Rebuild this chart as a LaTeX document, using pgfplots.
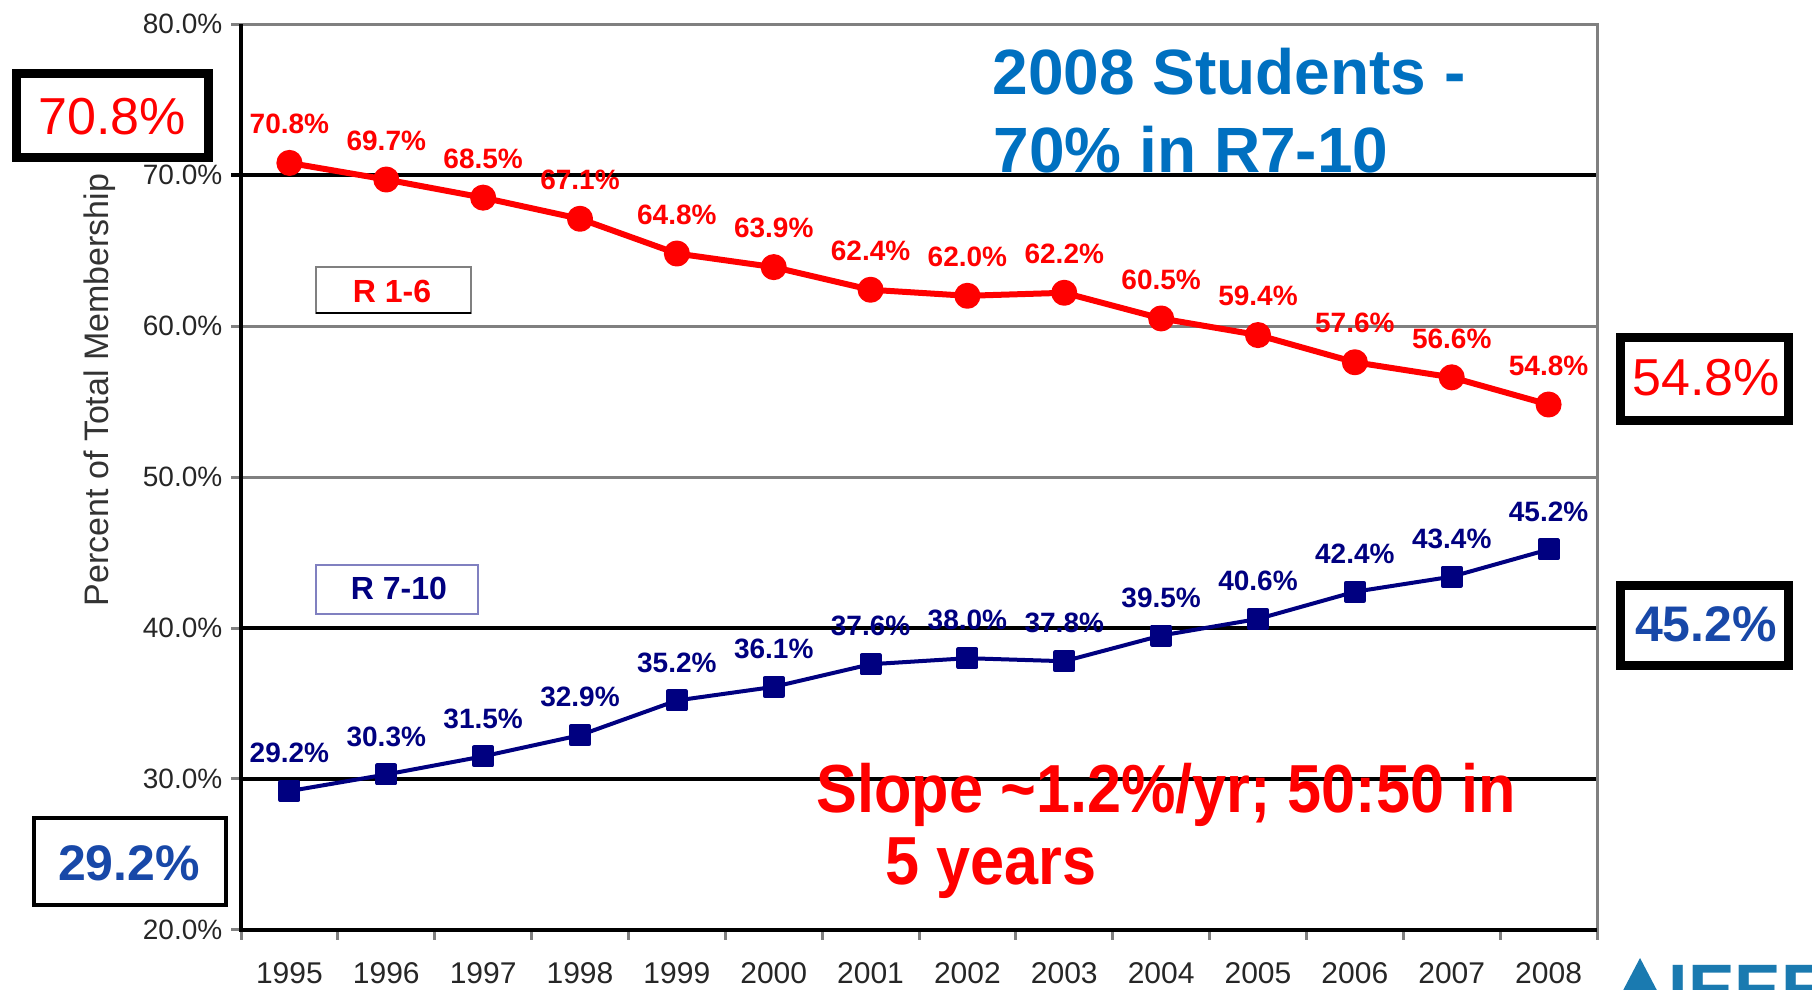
\documentclass[border=0pt]{standalone}
\usepackage{pgfplots}
\pgfplotsset{compat=1.18}
\usepackage{fontspec}
\setmainfont{Liberation Sans}
\newfontfamily\slopefont[FakeStretch=0.9]{Liberation Sans}
\definecolor{xred}{HTML}{FF0000}
\definecolor{xnavy}{HTML}{000080}
\definecolor{titleblue}{HTML}{0070C0}
\definecolor{boxblue}{HTML}{1848A8}
\definecolor{boxnavy}{HTML}{8080C0}
\definecolor{ieeeblue}{HTML}{1A7AB0}
\newcommand{\fs}[2]{\fontsize{#1}{#2}\selectfont}
\begin{document}
\begin{tikzpicture}
\useasboundingbox (0,0) rectangle (181.2mm,99mm);
\begin{axis}[
  at={(24.1mm,6mm)}, anchor=south west,
  scale only axis, width=135.6mm, height=90.6mm,
  xmin=-0.5, xmax=13.5, ymin=20, ymax=80,
  axis line style={draw=none},
  clip=false,
  tick align=outside,
  xtick pos=lower, ytick pos=lower,
  major tick length=1mm,
  tick style={draw=gray, line width=0.3mm},
  xtick={-0.5,0.5,...,13.5}, xticklabels={},
  extra x ticks={0,1,2,3,4,5,6,7,8,9,10,11,12,13},
  extra x tick labels={1995,1996,1997,1998,1999,2000,2001,2002,2003,2004,2005,2006,2007,2008},
  extra x tick style={major tick length=0pt,
    xticklabel style={font=\fs{3.0mm}{3.6mm}, text=black!85, inner sep=0pt, anchor=north, yshift=-3.2mm}},
  ytick={20,30,40,50,60,70,80},
  yticklabel={\pgfmathprintnumber[fixed,fixed zerofill,precision=1]{\tick}\%},
  yticklabel style={font=\fs{2.8mm}{3.3mm}, text=black!85, inner sep=0pt, anchor=east, xshift=-0.8mm},
  /pgf/number format/assume math mode=true,
  ymajorgrids, grid style={draw=gray, line width=0.3mm},
]
% emphasised black gridlines
\draw[black, line width=0.33mm] (axis cs:-0.6,70) -- (axis cs:13.5,70);
\draw[black, line width=0.33mm] (axis cs:-0.5,40) -- (axis cs:13.5,40);
\draw[black, line width=0.33mm] (axis cs:-0.5,30) -- (axis cs:13.5,30);

\addplot[color=xred, line width=0.6mm, line join=round, mark=*, mark size=1mm, mark options={solid},
  nodes near coords={\pgfmathprintnumber[fixed,fixed zerofill,precision=1]{\pgfplotspointmeta}\%},
  every node near coord/.append style={font=\bfseries\fs{2.8mm}{3.3mm}, text=xred, inner sep=0pt, anchor=south, yshift=2.6mm}]
coordinates {(0,70.8) (1,69.7) (2,68.5) (3,67.1) (4,64.8) (5,63.9) (6,62.4) (7,62.0) (8,62.2) (9,60.5) (10,59.4) (11,57.6) (12,56.6) (13,54.8)};

\addplot[color=xnavy, line width=0.4mm, line join=round, mark=square*, mark size=0.9mm, mark options={solid},
  nodes near coords={\pgfmathprintnumber[fixed,fixed zerofill,precision=1]{\pgfplotspointmeta}\%},
  every node near coord/.append style={font=\bfseries\fs{2.8mm}{3.3mm}, text=xnavy, inner sep=0pt, anchor=south, yshift=2.6mm}]
coordinates {(0,29.2) (1,30.3) (2,31.5) (3,32.9) (4,35.2) (5,36.1) (6,37.6) (7,38.0) (8,37.8) (9,39.5) (10,40.6) (11,42.4) (12,43.4) (13,45.2)};

% frame
\draw[gray, line width=0.3mm] (axis cs:-0.5,80) -- (axis cs:13.5,80) -- (axis cs:13.5,20);
\draw[black, line width=0.33mm] (axis cs:-0.5,80) -- (axis cs:-0.5,20) -- (axis cs:13.5,20);
\end{axis}

\begin{scope}[x=0.1mm, y=-0.1mm, shift={(0mm,99mm)}]
% y label
\node[rotate=90, font=\fs{3.4mm}{4mm}, text=black!80] at (100,390) {Percent of Total Membership};
% boxed callouts
\draw[black, line width=0.9mm, fill=white] (16.5,73.5) rectangle (208.5,157.5);
\node[text=xred, font=\fs{5.2mm}{6mm}] at (112,117) {70.8\%};
\draw[black, line width=0.9mm, fill=white] (1620.5,337.5) rectangle (1788.5,420.5);
\node[text=xred, font=\fs{5.2mm}{6mm}] at (1706,378) {54.8\%};
\draw[black, line width=0.9mm, fill=white] (1620.5,585.5) rectangle (1788.5,665.5);
\node[text=boxblue, font=\bfseries\fs{5.0mm}{6mm}] at (1706,624) {45.2\%};
\draw[black, line width=0.45mm, fill=white] (34,818) rectangle (226,905);
\node[text=boxblue, font=\bfseries\fs{5.0mm}{6mm}] at (129,863) {29.2\%};
% series labels
\draw[gray, line width=0.25mm, fill=white] (316,267) rectangle (471,313);
\draw[black, line width=0.25mm] (316,313) -- (471,313);
\node[text=xred, font=\bfseries\fs{3.2mm}{3.8mm}] at (392,291) {R 1-6};
\draw[boxnavy, line width=0.25mm, fill=white] (316,565) rectangle (478,614);
\node[text=xnavy, font=\bfseries\fs{3.2mm}{3.8mm}] at (399,588) {R 7-10};
% title
\node[anchor=base west, inner sep=0pt, text=titleblue, font=\bfseries\fs{6.4mm}{7.7mm}] at (992,95) {2008 Students -};
\node[anchor=base west, inner sep=0pt, text=titleblue, font=\bfseries\fs{6.4mm}{7.7mm}] at (993,173) {70\% in R7-10};
% slope note
\node[anchor=base west, inner sep=0pt, text=xred, font=\slopefont\bfseries\fs{6.8mm}{8mm}] at (816,812) {Slope \textasciitilde1.2\%/yr; 50:50 in};
\node[anchor=base west, inner sep=0pt, text=xred, font=\slopefont\bfseries\fs{6.8mm}{8mm}] at (885,884) {5 years};
% logo fragment
\fill[ieeeblue] (1618,1000) -- (1640,958) -- (1662,1000) -- cycle;
\node[anchor=north west, inner sep=0pt, text=ieeeblue, font=\bfseries\fs{7mm}{8mm}] at (1668,965) {IEEE};
\end{scope}
\end{tikzpicture}
\end{document}
